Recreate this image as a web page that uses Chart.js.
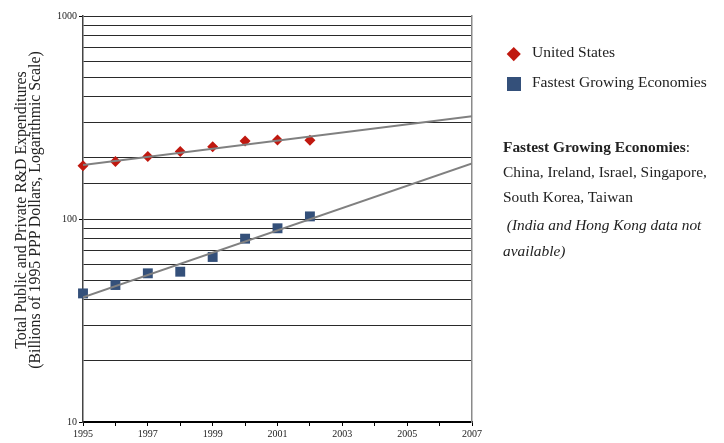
<!DOCTYPE html>
<html>
<head>
<meta charset="utf-8">
<script src="https://cdn.jsdelivr.net/npm/chart.js@4/dist/chart.umd.min.js"></script>
<style>
  html,body{margin:0;padding:0;background:#fff;}
  #wrap{position:relative;width:724px;height:443px;overflow:hidden;font-family:"Liberation Serif","DejaVu Serif",serif;color:#222;}
  canvas{position:absolute;left:0;top:0;}
  .ytitle{position:absolute;left:28px;top:210px;width:400px;margin-left:-200px;text-align:center;transform:translate(0,-50%) rotate(-90deg);font-size:15.8px;line-height:14px;white-space:nowrap;}
  .leg{position:absolute;font-size:15.5px;white-space:nowrap;}
  .mk{position:absolute;}
  .note{position:absolute;left:503px;font-size:15.4px;white-space:nowrap;}
</style>
</head>
<body>
<div id="wrap">
  <canvas id="c" width="724" height="443"></canvas>
  <div class="ytitle">Total Public and Private R&amp;D Expenditures<br>(Billions of 1995 PPP Dollars, Logarithmic Scale)</div>
  <div class="mk" style="left:509px;top:49px;width:9.5px;height:9.5px;background:#c0180f;transform:rotate(45deg);"></div>
  <div class="leg" style="left:532px;top:43px;">United States</div>
  <div class="mk" style="left:507px;top:77px;width:14px;height:14px;background:#34507a;"></div>
  <div class="leg" style="left:532px;top:73px;">Fastest Growing Economies</div>
  <div class="note" style="top:138px;"><b>Fastest Growing Economies</b>:</div>
  <div class="note" style="top:163px;">China, Ireland, Israel, Singapore,</div>
  <div class="note" style="top:188px;">South Korea, Taiwan</div>
  <div class="note" style="top:216px;"><i>&nbsp;(India and Hong Kong data not</i></div>
  <div class="note" style="top:242px;"><i>available)</i></div>
</div>
<script>
const years = [1995, 1996, 1997, 1998, 1999, 2000, 2001, 2002];
const usValues = [183, 192, 203, 215, 227, 242, 245, 244];
const fgeValues = [43, 47.3, 54, 55, 65, 80, 90, 103];
const trendYears = [1995, 2007];
const usTrend = [184.5, 321];
const fgeTrend = [41.1, 188];
const xTickLabels = [1995, 1997, 1999, 2001, 2003, 2005, 2007];
const yTickLabels = [10, 100, 1000];

const pts = (xs, ys) => xs.map((x, i) => ({x: x, y: ys[i]}));

new Chart(document.getElementById('c'), {
  data: {
    datasets: [
      {type: 'line', label: 'US trend', data: pts(trendYears, usTrend), borderColor: '#808080', borderWidth: 2, pointRadius: 0, fill: false, order: 0},
      {type: 'line', label: 'FGE trend', data: pts(trendYears, fgeTrend), borderColor: '#808080', borderWidth: 2, pointRadius: 0, fill: false, order: 0},
      {type: 'scatter', label: 'United States', data: pts(years, usValues), pointStyle: 'rectRot', pointRadius: 5.5, backgroundColor: '#c0180f', borderColor: '#c0180f', borderWidth: 0, order: 1, clip: false},
      {type: 'scatter', label: 'Fastest Growing Economies', data: pts(years, fgeValues), pointStyle: 'rect', pointRadius: 7, backgroundColor: '#34507a', borderColor: '#34507a', borderWidth: 0, order: 1, clip: false}
    ]
  },
  options: {
    responsive: false,
    animation: false,
    events: [],
    layout: {padding: {left: 0, right: 252, top: 16, bottom: 0}},
    plugins: {legend: {display: false}, tooltip: {enabled: false}},
    scales: {
      x: {
        type: 'linear', min: 1995, max: 2007,
        afterFit: s => { s.height = 21; },
        border: {color: '#000', width: 2},
        grid: {drawOnChartArea: false, drawTicks: true, tickLength: 4, color: '#000'},
        ticks: {
          stepSize: 1, autoSkip: false, maxRotation: 0, padding: 2,
          color: '#222', font: {family: 'Liberation Serif', size: 10},
          callback: v => xTickLabels.includes(v) ? String(v) : ''
        }
      },
      y: {
        type: 'logarithmic', min: 10, max: 1000,
        afterFit: s => { s.width = 83; },
        border: {color: '#444', width: 1.5},
        grid: {
          color: '#2a2a2a', lineWidth: 1, tickLength: 4,
          tickColor: c => yTickLabels.includes(c.tick && c.tick.value) ? '#000' : 'rgba(0,0,0,0)'
        },
        ticks: {
          autoSkip: false, padding: 2,
          color: '#222', font: {family: 'Liberation Serif', size: 10},
          callback: v => yTickLabels.includes(v) ? String(v) : ''
        }
      },
      y2: {
        type: 'logarithmic', min: 10, max: 1000, position: 'right',
        afterFit: s => { s.width = 0; },
        border: {color: '#8a8a8a', width: 1.5},
        grid: {drawOnChartArea: false, drawTicks: false},
        ticks: {display: false}
      }
    }
  }
});
</script>
</body>
</html>
